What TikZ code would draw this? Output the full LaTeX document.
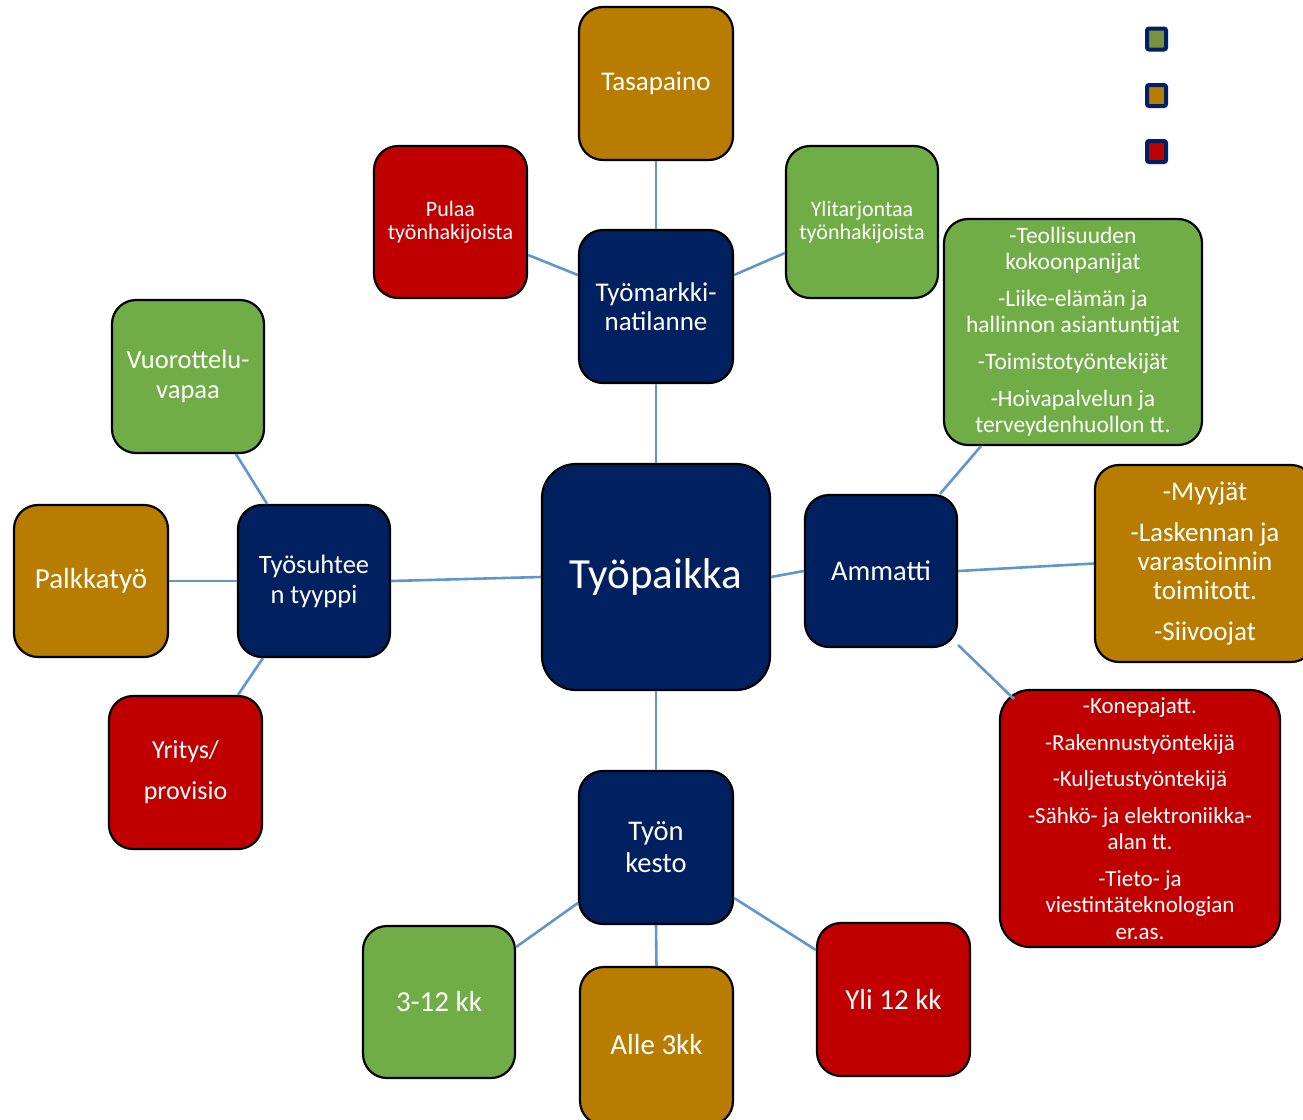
\documentclass[tikz,border=0pt]{standalone}
\usepackage{fontspec}
\setmainfont{Carlito}
\usetikzlibrary{calc}
\definecolor{navy}{RGB}{0,32,96}
\definecolor{cgreen}{RGB}{112,173,71}
\definecolor{corange}{RGB}{184,124,0}
\definecolor{cred}{RGB}{192,0,0}
\definecolor{conn}{RGB}{96,150,204}
\definecolor{lgreen}{RGB}{119,147,60}
\tikzset{
  box/.style={draw=black, line width=2.2pt, rounded corners=24pt, text=white, align=center,
    inner sep=0pt, minimum width=153pt, minimum height=153pt},
  navybox/.style={box, fill=navy},
  greenbox/.style={box, fill=cgreen},
  orangebox/.style={box, fill=corange},
  redbox/.style={box, fill=cred},
  link/.style={draw=conn, line width=2.6pt},
  legendsq/.style={draw=navy, line width=4pt, rounded corners=2pt, minimum width=19pt, minimum height=21pt, inner sep=0pt},
  fA/.style={font=\fontsize{22}{23}\selectfont},
  fB/.style={font=\fontsize{27}{29}\selectfont},
  fC/.style={font=\fontsize{26.5}{30}\selectfont},
  fD/.style={font=\fontsize{29}{32}\selectfont},
}
\begin{document}
\begin{tikzpicture}[x=1pt,y=-1pt]
\useasboundingbox (0,0) rectangle (1303,1119);
\clip (0,0) rectangle (1303,1119);
% nodes
\node[orangebox, fB, minimum width=154pt] (tasa) at (656,83.5) {Tasapaino};
\node[redbox, fA, minimum height=152pt] (pulaa) at (450.5,222) {Pulaa\\työnhakijoista};
\node[greenbox, fA, minimum width=152pt, minimum height=152pt] (yli) at (862,222) {Ylitarjontaa\\työnhakijoista};
\node[navybox, fB, minimum width=154pt] (tm) at (656,306.5) {Työmarkki-\\natilanne};
\node[greenbox, font=\fontsize{23.5}{26}\selectfont, minimum width=258pt, minimum height=226pt] (glist) at (1073,332)
  {-Teollisuuden\\kokoonpanijat\\[11pt]-Liike-elämän ja\\hallinnon asiantuntijat\\[11pt]-Toimistotyöntekijät\\[11pt]-Hoivapalvelun ja\\terveydenhuollon tt.};
\node[greenbox, fC, minimum width=152pt] (vuor) at (188,376.5) {Vuorottelu-\\vapaa};
\node[orangebox, fD, minimum width=154pt, minimum height=152pt] (palk) at (91,581) {Palkkatyö};
\node[navybox, fC, minimum width=152pt, minimum height=152pt] (tst) at (314,581) {Työsuhtee\\n tyyppi};
\node[navybox, font=\fontsize{43}{46}\selectfont, minimum width=228pt, minimum height=226pt, rounded corners=34pt] (tp) at (656,577) {Työpaikka};
\node[navybox, font=\fontsize{28.5}{30}\selectfont, minimum width=152pt, minimum height=152pt] (amm) at (881,571) {Ammatti};
\node[orangebox, font=\fontsize{27}{29}\selectfont, minimum width=220pt, minimum height=197pt] (olist) at (1205,563.5)
  {-Myyjät\\[12pt]-Laskennan ja\\varastoinnin\\toimitott.\\[12pt]-Siivoojat};
\node[redbox, font=\fontsize{23}{26.5}\selectfont, minimum width=280pt, minimum height=257pt, rounded corners=30pt] (rlist) at (1140,818.5)
  {-Konepajatt.\\[10pt]-Rakennustyöntekijä\\[10pt]-Kuljetustyöntekijä\\[10pt]-Sähkö- ja elektroniikka-\\alan tt.\\[10pt]-Tieto- ja\\viestintäteknologian\\er.as.};
\node[redbox, font=\fontsize{26}{41}\selectfont] (yrit) at (185.5,772.5) {Yritys/\\provisio};
\node[navybox, font=\fontsize{28.5}{32}\selectfont, minimum width=154pt] (tk) at (656,847.5) {Työn\\kesto};
\node[greenbox, fD, minimum width=152pt, minimum height=152pt] (k312) at (439,1002) {3-12 kk};
\node[orangebox, fD, minimum height=158pt] (alle) at (656.5,1046) {\raisebox{3pt}{Alle 3kk}};
\node[redbox, fD] (yli12) at (893.5,999.5) {Yli 12 kk};
% legend
\node[legendsq, fill=lgreen] (lg1) at (1156.5,39) {};
\node[legendsq, fill=corange] (lg2) at (1156.5,95.5) {};
\node[legendsq, fill=cred] (lg3) at (1156.5,151.5) {};
% connectors
\draw[link] (tasa.south) -- (tm.north);
\draw[link] ([yshift=-33pt]pulaa.east) -- ([yshift=31.5pt]tm.west);
\draw[link] ([yshift=-31pt]yli.west) -- ([yshift=31.5pt]tm.east);
\draw[link] (tm.south) -- (tp.north);
\draw[link] (tp.west) -- (tst.east);
\draw[link] (tst.west) -- (palk.east);
\draw[link] ([xshift=48pt]vuor.south) -- ([xshift=-47pt]tst.north);
\draw[link] ([xshift=-51pt]tst.south) -- ([xshift=52.5pt]yrit.north);
\draw[link] (tp.east) -- (amm.west);
\draw[link] ([xshift=59pt]amm.north) -- ([xshift=-92pt]glist.south);
\draw[link] (amm.east) -- (olist.west);
\draw[link] ([yshift=-74pt]amm.east) -- ([xshift=15pt,yshift=-10pt]rlist.north west);
\draw[link] (tp.south) -- (tk.north);
\draw[link] ([yshift=-55.5pt]tk.west) -- ([yshift=55pt]k312.east);
\draw[link] (tk.south) -- (alle.north);
\draw[link] ([yshift=-50.5pt]tk.east) -- ([yshift=49.5pt]yli12.west);
\end{tikzpicture}
\end{document}
